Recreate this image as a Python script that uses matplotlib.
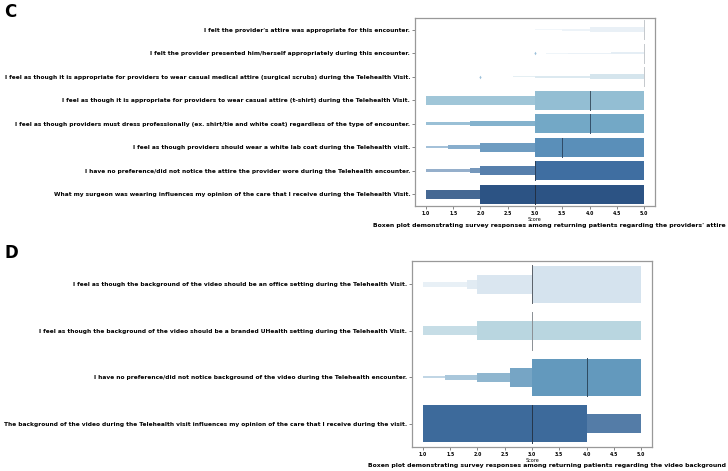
import numpy as np
import matplotlib
matplotlib.use('Agg')
import matplotlib.pyplot as plt

# ---- panel C : attire ----
c_labels = [
    "I felt the provider's attire was appropriate for this encounter.",
    "I felt the provider presented him/herself appropriately during this encounter.",
    "I feel as though it is appropriate for providers to wear casual medical attire (surgical scrubs) during the Telehealth Visit.",
    "I feel as though it is appropriate for providers to wear casual attire (t-shirt) during the Telehealth Visit.",
    "I feel as though providers must dress professionally (ex. shirt/tie and white coat) regardless of the type of encounter.",
    "I feel as though providers should wear a white lab coat during the Telehealth visit.",
    "I have no preference/did not notice the attire the provider wore during the Telehealth encounter.",
    "What my surgeon was wearing influences my opinion of the care that I receive during the Telehealth Visit.",
]
# letter-value boxes per row, innermost first: (low, high, relative height)
c_boxes = [
    [(5.0, 5.0, 0.8), (4.0, 5.0, 0.2), (3.5, 4.0, 0.1), (3.0, 3.5, 0.05)],
    [(5.0, 5.0, 0.8), (4.4, 5.0, 0.1), (3.6, 4.4, 0.05), (3.2, 3.6, 0.03)],
    [(5.0, 5.0, 0.8), (4.0, 5.0, 0.2), (3.0, 4.0, 0.1), (2.6, 3.0, 0.05)],
    [(3.0, 5.0, 0.8), (1.0, 3.0, 0.4)],
    [(3.0, 5.0, 0.8), (1.8, 3.0, 0.2), (1.0, 1.8, 0.12)],
    [(3.0, 5.0, 0.8), (2.0, 3.0, 0.4), (1.4, 2.0, 0.15), (1.0, 1.4, 0.1)],
    [(3.0, 5.0, 0.8), (2.0, 3.0, 0.4), (1.8, 2.0, 0.22), (1.0, 1.8, 0.12)],
    [(2.0, 5.0, 0.8), (1.0, 2.0, 0.4)],
]
c_medians = [5.0, 5.0, 5.0, 4.0, 4.0, 3.5, 3.0, 3.0]
c_outliers = [[], [3.0], [2.0], [], [], [], [], []]
c_colors = ['#e6eef5', '#e2ecf4', '#cfe1ea', '#93bed3', '#73a8c6', '#5a8fb9', '#3f6ea1', '#2c5384']
c_medcolors = ['#c4c8cc', '#c4c8cc', '#c4c8cc', '#3d5566', '#34506a', '#2f4a66', '#2a3f5a', '#222f44']

# ---- panel D : video background ----
d_labels = [
    "I feel as though the background of the video should be an office setting during the Telehealth Visit.",
    "I feel as though the background of the video should be a branded UHealth setting during the Telehealth Visit.",
    "I have no preference/did not notice background of the video during the Telehealth encounter.",
    "The background of the video during the Telehealth visit influences my opinion of the care that I receive during the visit.",
]
d_boxes = [
    [(3.0, 5.0, 0.8), (2.0, 3.0, 0.4), (1.8, 2.0, 0.2), (1.0, 1.8, 0.1)],
    [(3.0, 3.0, 0.8), (2.0, 5.0, 0.4), (1.0, 2.0, 0.2)],
    [(3.0, 5.0, 0.8), (2.6, 3.0, 0.4), (2.0, 2.6, 0.2), (1.4, 2.0, 0.1), (1.0, 1.4, 0.05)],
    [(1.0, 4.0, 0.8), (4.0, 5.0, 0.4)],
]
d_medians = [3.0, 3.0, 4.0, 3.0]
d_colors = ['#d5e3ee', '#b0d0dc', '#6399bd', '#3d6a9b']
d_medcolors = ['#5a6068', '#8a8f94', '#2e4a60', '#26364a']

light = [0.0, 0.12, 0.28, 0.45, 0.6]


def blend(col, t):
    rgb = np.array(matplotlib.colors.to_rgb(col))
    return tuple(np.clip(rgb + (1 - rgb) * t, 0, 1))


def boxen(ax, boxes, medians, colors, medcolors, labels, outliers=None):
    n = len(boxes)
    for i in range(n):
        for k, (lo, hi, h) in enumerate(boxes[i]):
            if hi > lo:
                ax.barh(i, hi - lo, left=lo, height=h, color=blend(colors[i], light[k]),
                        linewidth=0, zorder=2)
        ax.plot([medians[i], medians[i]], [i - 0.41, i + 0.41], color=medcolors[i],
                lw=0.7, zorder=3)
        if outliers is not None and outliers[i]:
            ax.plot(outliers[i], [i] * len(outliers[i]), 'd', ms=1.8,
                    color='#9cc0da', mec='none', zorder=3)
    ax.set_xlim(0.8, 5.2)
    ax.set_ylim(n - 0.5, -0.5)
    ax.set_yticks(range(n))
    ax.set_yticklabels(labels, fontsize=4.25, fontweight='bold')
    ax.set_xticks(np.arange(1.0, 5.01, 0.5))
    ax.set_xticklabels(['%.1f' % v for v in np.arange(1.0, 5.01, 0.5)], fontsize=3.3,
                       fontweight='bold')
    ax.tick_params(axis='both', length=2, width=0.5, pad=1.5, color='#555555')
    ax.set_xlabel('Score', fontsize=3.5, labelpad=1)
    for s in ax.spines.values():
        s.set_color('#999999')
        s.set_linewidth(0.9)


fig = plt.figure(figsize=(7.28, 4.71), dpi=100)
W, H = 728.0, 471.0

axc = fig.add_axes([415 / W, 1 - 206 / H, 240 / W, 188 / H])
boxen(axc, c_boxes, c_medians, c_colors, c_medcolors, c_labels, c_outliers)

axd = fig.add_axes([412 / W, 1 - 447 / H, 240 / W, 186 / H])
boxen(axd, d_boxes, d_medians, d_colors, d_medcolors, d_labels)

fig.text(4 / W, 1 - 12 / H, 'C', fontsize=12, fontweight='bold', va='center', ha='left')
fig.text(4 / W, 1 - 253 / H, 'D', fontsize=12, fontweight='bold', va='center', ha='left')

fig.text(726 / W, 1 - 225 / H,
         "Boxen plot demonstrating survey responses among returning patients regarding the providers' attire",
         fontsize=4.4, fontweight='bold', ha='right', va='center')
fig.text(726 / W, 1 - 466 / H,
         "Boxen plot demonstrating survey responses among returning patients regarding the video background",
         fontsize=4.4, fontweight='bold', ha='right', va='center')

fig.savefig('out.png', dpi=100)
